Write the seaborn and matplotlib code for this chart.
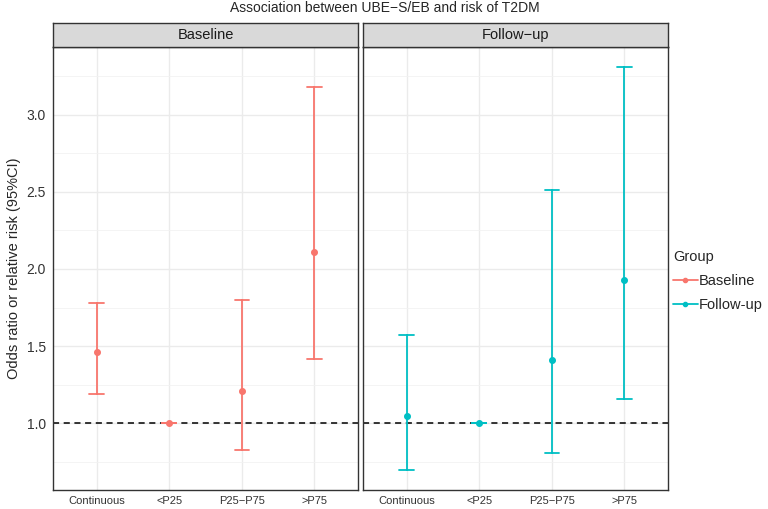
import pandas as pd
import seaborn as sns
import matplotlib.pyplot as plt
from matplotlib.lines import Line2D
from matplotlib.ticker import MultipleLocator

# data
categories = ['Continuous', '<P25', 'P25\u2212P75', '>P75']
groups = ['Baseline', 'Follow\u2212up']
baseline_est = [1.46, 1.00, 1.21, 2.11]
baseline_low = [1.19, 1.00, 0.83, 1.42]
baseline_high = [1.78, 1.00, 1.80, 3.18]
followup_est = [1.05, 1.00, 1.41, 1.93]
followup_low = [0.70, 1.00, 0.81, 1.16]
followup_high = [1.57, 1.00, 2.51, 3.31]
colors = ['#F8766D', '#00BFC4']

rows = []
for grp, est, lo, hi in [(groups[0], baseline_est, baseline_low, baseline_high),
                         (groups[1], followup_est, followup_low, followup_high)]:
    for c, e, l, h in zip(categories, est, lo, hi):
        for v in (l, e, h):
            rows.append({'Group': grp, 'Category': c, 'value': v})
df = pd.DataFrame(rows)

sns.set_style('white')
plt.rcParams['font.family'] = ['Liberation Sans', 'DejaVu Sans']

fig = plt.figure(figsize=(7.68, 5.09), dpi=100)
W, H = 768, 509
panels = [(53, 358), (363, 668)]
top, bottom = 47, 490
strip_h = 24

for i, (grp, (x0, x1)) in enumerate(zip(groups, panels)):
    ax = fig.add_axes([x0 / W, 1 - bottom / H, (x1 - x0) / W, (bottom - top) / H])
    sub = df[df['Group'] == grp]
    sns.pointplot(data=sub, x='Category', y='value', order=categories,
                  estimator='median', errorbar=lambda v: (v.min(), v.max()),
                  capsize=0.2, color=colors[i], marker='o', markersize=3,
                  linestyle='none', err_kws={'linewidth': 1.3}, ax=ax)
    ax.axhline(1.0, color='black', linestyle=(0, (4, 3)), linewidth=1.1, zorder=1)
    ax.set_xlim(-0.6, 3.6)
    ax.set_ylim(0.569, 3.437)
    ax.yaxis.set_major_locator(MultipleLocator(0.5))
    ax.yaxis.set_minor_locator(MultipleLocator(0.25))
    ax.grid(which='major', color='#EBEBEB', linewidth=1.0, zorder=0)
    ax.grid(which='minor', axis='y', color='#F2F2F2', linewidth=0.6, zorder=0)
    ax.set_axisbelow(True)
    for s in ax.spines.values():
        s.set_color('#333333')
        s.set_linewidth(1.0)
    ax.tick_params(axis='both', which='major', direction='out', length=3,
                   color='#333333', labelcolor='#333333')
    ax.tick_params(axis='x', labelsize=8, pad=1.5)
    ax.tick_params(axis='y', labelsize=10, pad=2)
    ax.tick_params(which='minor', length=0)
    ax.set_xlabel('')
    if i == 0:
        ax.set_ylabel('Odds ratio or relative risk (95%CI)', fontsize=10.5, labelpad=4)
    else:
        ax.set_ylabel('')
        ax.tick_params(axis='y', labelleft=False, length=0)

    # facet strip
    sax = fig.add_axes([x0 / W, 1 - top / H, (x1 - x0) / W, strip_h / H])
    sax.set_facecolor('#D9D9D9')
    sax.set_xticks([])
    sax.set_yticks([])
    for s in sax.spines.values():
        s.set_color('#333333')
        s.set_linewidth(1.0)
    sax.text(0.5, 0.5, grp, ha='center', va='center', fontsize=10.5, color='#1A1A1A',
             transform=sax.transAxes)

fig.text(385 / W, 1 - 8 / H, 'Association between UBE\u2212S/EB and risk of T2DM',
         ha='center', va='center', fontsize=10)

handles = [Line2D([], [], color=c, marker='o', markersize=3, linewidth=1.3) for c in colors]
leg = fig.legend(handles, ['Baseline', 'Follow-up'], title='Group', loc='upper left',
                 bbox_to_anchor=(667 / W, 1 - 244 / H), frameon=False, fontsize=10.5,
                 title_fontsize=10.5, handlelength=1.7, handletextpad=0.1,
                 labelspacing=0.7, borderaxespad=0)
leg._legend_box.align = 'left'

fig.savefig('out.png', dpi=100)
